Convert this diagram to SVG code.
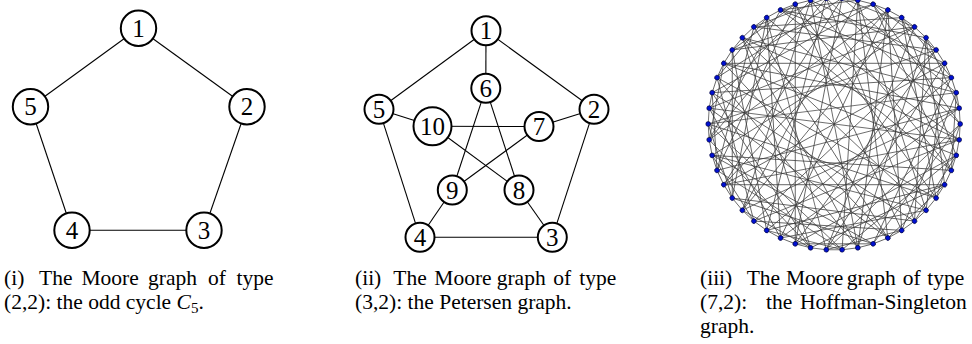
<svg xmlns="http://www.w3.org/2000/svg" xmlns:xlink="http://www.w3.org/1999/xlink" width="972" height="344" viewBox="0 0 972 344">
<style>
.nd circle{fill:#fff;stroke:#000;stroke-width:2}
.nd text{font-family:"Liberation Serif","Times New Roman",serif;font-size:25px;text-anchor:middle;fill:#000}
.e line{stroke:#000;stroke-width:1.1}
.hs{stroke:#3a3a3a;stroke-width:0.7;fill:none}
.dots use{fill:#0010d0;stroke:#000030;stroke-width:0.6}
.cap{font-family:"Liberation Serif","Times New Roman",serif;font-size:21.5px;fill:#000}
</style>
<defs>
<line id="c1" x1="126" y1="0" x2="125.01" y2="15.79"/>
<line id="c5" x1="126" y1="0" x2="101.94" y2="74.06"/>
<line id="c10" x1="126" y1="0" x2="38.94" y2="119.83"/>
<line id="c13" x1="126" y1="0" x2="-7.91" y2="125.75"/>
<line id="c17" x1="126" y1="0" x2="-67.51" y2="106.39"/>
<line id="c20" x1="126" y1="0" x2="-101.94" y2="74.06"/>
<line id="c23" x1="126" y1="0" x2="-122.04" y2="31.33"/>
<line id="c25" x1="126" y1="0" x2="-126" y2="0"/>
<circle id="dot" cx="126" cy="0" r="2.4"/>
</defs>

<!-- Panel (i): C5 -->
<g id="c5-edges" class="e">
<line x1="138.5" y1="28.3" x2="247" y2="106.7"/>
<line x1="247" y1="106.7" x2="204" y2="230.3"/>
<line x1="204" y1="230.3" x2="72" y2="230.3"/>
<line x1="72" y1="230.3" x2="30.5" y2="106.7"/>
<line x1="30.5" y1="106.7" x2="138.5" y2="28.3"/>
</g>
<g id="c5-n1" class="nd"><circle cx="138.5" cy="28.3" r="17.7"/><text x="138.5" y="36.8">1</text></g>
<g id="c5-n2" class="nd"><circle cx="247" cy="106.7" r="17.7"/><text x="247" y="115.2">2</text></g>
<g id="c5-n3" class="nd"><circle cx="204" cy="230.3" r="17.7"/><text x="204" y="238.8">3</text></g>
<g id="c5-n4" class="nd"><circle cx="72" cy="230.3" r="17.7"/><text x="72" y="238.8">4</text></g>
<g id="c5-n5" class="nd"><circle cx="30.5" cy="106.7" r="17.7"/><text x="30.5" y="115.2">5</text></g>

<!-- Panel (ii): Petersen -->
<g id="pet-edges" class="e">
<line x1="486" y1="30.7" x2="594" y2="109.3"/>
<line x1="594" y1="109.3" x2="552.3" y2="237.3"/>
<line x1="552.3" y1="237.3" x2="420" y2="237.3"/>
<line x1="420" y1="237.3" x2="379" y2="109.3"/>
<line x1="379" y1="109.3" x2="486" y2="30.7"/>
<line x1="486" y1="30.7" x2="485.8" y2="88.3"/>
<line x1="594" y1="109.3" x2="539" y2="126.5"/>
<line x1="552.3" y1="237.3" x2="519" y2="190"/>
<line x1="420" y1="237.3" x2="452.3" y2="190"/>
<line x1="379" y1="109.3" x2="432.5" y2="126.3"/>
<line x1="485.8" y1="88.3" x2="519" y2="190"/>
<line x1="485.8" y1="88.3" x2="452.3" y2="190"/>
<line x1="432.5" y1="126.3" x2="539" y2="126.5"/>
<line x1="432.5" y1="126.3" x2="519" y2="190"/>
<line x1="539" y1="126.5" x2="452.3" y2="190"/>
</g>
<g id="pet-n1" class="nd"><circle cx="486" cy="30.7" r="14.5"/><text x="486" y="39.4">1</text></g>
<g id="pet-n2" class="nd"><circle cx="594" cy="109.3" r="14.5"/><text x="594" y="118">2</text></g>
<g id="pet-n3" class="nd"><circle cx="552.3" cy="237.3" r="14.5"/><text x="552.3" y="246">3</text></g>
<g id="pet-n4" class="nd"><circle cx="420" cy="237.3" r="14.5"/><text x="420" y="246">4</text></g>
<g id="pet-n5" class="nd"><circle cx="379" cy="109.3" r="14.5"/><text x="379" y="118">5</text></g>
<g id="pet-n6" class="nd"><circle cx="485.8" cy="88.3" r="14.5"/><text x="485.8" y="97">6</text></g>
<g id="pet-n7" class="nd"><circle cx="539" cy="126.5" r="14.5"/><text x="539" y="135.2">7</text></g>
<g id="pet-n8" class="nd"><circle cx="519" cy="190" r="14.5"/><text x="519" y="198.7">8</text></g>
<g id="pet-n9" class="nd"><circle cx="452.3" cy="190" r="14.5"/><text x="452.3" y="198.7">9</text></g>
<g id="pet-n10" class="nd"><circle cx="432.5" cy="126.3" r="19"/><text x="432.5" y="135">10</text></g>

<!-- Panel (iii): Hoffman-Singleton (Hamiltonian cycle on the rim, 5-fold symmetric) -->
<g id="hs-edges" class="hs" transform="translate(834.2 124)">
<g id="hsbase">
<use href="#c13" xlink:href="#c13" transform="rotate(0)"/>
<use href="#c1" xlink:href="#c1" transform="rotate(0)"/>
<use href="#c5" xlink:href="#c5" transform="rotate(0)"/>
<use href="#c13" xlink:href="#c13" transform="rotate(266.4)"/>
<use href="#c1" xlink:href="#c1" transform="rotate(352.8)"/>
<use href="#c1" xlink:href="#c1" transform="rotate(14.4)"/>
<use href="#c1" xlink:href="#c1" transform="rotate(7.2)"/>
<use href="#c13" xlink:href="#c13" transform="rotate(14.4)"/>
<use href="#c5" xlink:href="#c5" transform="rotate(14.4)"/>
<use href="#c23" xlink:href="#c23" transform="rotate(208.8)"/>
<use href="#c17" xlink:href="#c17" transform="rotate(43.2)"/>
<use href="#c25" xlink:href="#c25" transform="rotate(43.2)"/>
<use href="#c1" xlink:href="#c1" transform="rotate(36)"/>
<use href="#c1" xlink:href="#c1" transform="rotate(43.2)"/>
<use href="#c17" xlink:href="#c17" transform="rotate(280.8)"/>
<use href="#c1" xlink:href="#c1" transform="rotate(21.6)"/>
<use href="#c17" xlink:href="#c17" transform="rotate(28.8)"/>
<use href="#c1" xlink:href="#c1" transform="rotate(28.8)"/>
<use href="#c13" xlink:href="#c13" transform="rotate(28.8)"/>
<use href="#c5" xlink:href="#c5" transform="rotate(28.8)"/>
<use href="#c5" xlink:href="#c5" transform="rotate(57.6)"/>
<use href="#c17" xlink:href="#c17" transform="rotate(295.2)"/>
<use href="#c23" xlink:href="#c23" transform="rotate(252)"/>
<use href="#c1" xlink:href="#c1" transform="rotate(50.4)"/>
<use href="#c1" xlink:href="#c1" transform="rotate(57.6)"/>
<use href="#c10" xlink:href="#c10" transform="rotate(0)"/>
<use href="#c10" xlink:href="#c10" transform="rotate(14.4)"/>
<use href="#c10" xlink:href="#c10" transform="rotate(28.8)"/>
<use href="#c10" xlink:href="#c10" transform="rotate(43.2)"/>
<use href="#c10" xlink:href="#c10" transform="rotate(57.6)"/>
<use href="#c20" xlink:href="#c20" transform="rotate(7.2)"/>
<use href="#c20" xlink:href="#c20" transform="rotate(21.6)"/>
<use href="#c20" xlink:href="#c20" transform="rotate(36)"/>
<use href="#c20" xlink:href="#c20" transform="rotate(50.4)"/>
<use href="#c20" xlink:href="#c20" transform="rotate(64.8)"/>
</g>
<use href="#hsbase" xlink:href="#hsbase" transform="rotate(72)"/>
<use href="#hsbase" xlink:href="#hsbase" transform="rotate(144)"/>
<use href="#hsbase" xlink:href="#hsbase" transform="rotate(216)"/>
<use href="#hsbase" xlink:href="#hsbase" transform="rotate(288)"/>
</g>
<g id="hs-nodes" class="dots" transform="translate(834.2 124)">
<g id="hsdots10">
<use id="hs0" href="#dot" xlink:href="#dot" transform="rotate(0)"/>
<use id="hs1" href="#dot" xlink:href="#dot" transform="rotate(7.2)"/>
<use id="hs2" href="#dot" xlink:href="#dot" transform="rotate(14.4)"/>
<use id="hs3" href="#dot" xlink:href="#dot" transform="rotate(21.6)"/>
<use id="hs4" href="#dot" xlink:href="#dot" transform="rotate(28.8)"/>
<use id="hs5" href="#dot" xlink:href="#dot" transform="rotate(36)"/>
<use id="hs6" href="#dot" xlink:href="#dot" transform="rotate(43.2)"/>
<use id="hs7" href="#dot" xlink:href="#dot" transform="rotate(50.4)"/>
<use id="hs8" href="#dot" xlink:href="#dot" transform="rotate(57.6)"/>
<use id="hs9" href="#dot" xlink:href="#dot" transform="rotate(64.8)"/>
</g>
<use href="#hsdots10" xlink:href="#hsdots10" transform="rotate(72)"/>
<use href="#hsdots10" xlink:href="#hsdots10" transform="rotate(144)"/>
<use href="#hsdots10" xlink:href="#hsdots10" transform="rotate(216)"/>
<use href="#hsdots10" xlink:href="#hsdots10" transform="rotate(288)"/>
</g>

<!-- Captions -->
<g id="cap1" class="cap">
<text y="284.5"><tspan x="4">(i)</tspan><tspan x="39">The</tspan><tspan x="81.5">Moore</tspan><tspan x="148">graph</tspan><tspan x="208">of</tspan><tspan x="236.5">type</tspan></text>
<text x="4" y="309">(2,2): the odd cycle <tspan font-style="italic">C</tspan><tspan font-size="15" dy="3.5">5</tspan><tspan dy="-3.5">.</tspan></text>
</g>
<g id="cap2" class="cap">
<text y="284.5"><tspan x="355">(ii)</tspan><tspan x="393.3">The</tspan><tspan x="434.3">Moore</tspan><tspan x="496.7">graph</tspan><tspan x="553.3">of</tspan><tspan x="579.3">type</tspan></text>
<text x="355" y="309">(3,2): the Petersen graph.</text>
</g>
<g id="cap3" class="cap">
<text y="284.5"><tspan x="700">(iii)</tspan><tspan x="746.7">The</tspan><tspan x="786">Moore</tspan><tspan x="846.7">graph</tspan><tspan x="902.7">of</tspan><tspan x="927.3">type</tspan></text>
<text y="309"><tspan x="700">(7,2):</tspan><tspan x="766">the</tspan><tspan x="800">Hoffman-Singleton</tspan></text>
<text x="700" y="333">graph.</text>
</g>
</svg>
